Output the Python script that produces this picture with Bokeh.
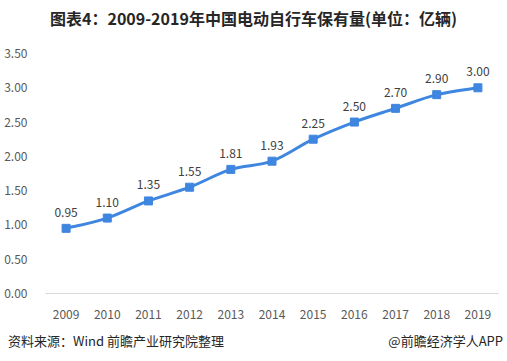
from bokeh.plotting import figure
from bokeh.models import Range1d, FixedTicker, NumeralTickFormatter, ColumnDataSource, Div
from bokeh.layouts import column
from bokeh.core.properties import value
from bokeh.embed import file_html
from bokeh.resources import INLINE

years = ["2009", "2010", "2011", "2012", "2013", "2014", "2015", "2016", "2017", "2018", "2019"]
values = [0.95, 1.10, 1.35, 1.55, 1.81, 1.93, 2.25, 2.50, 2.70, 2.90, 3.00]
y_ticks = [0.0, 0.5, 1.0, 1.5, 2.0, 2.5, 3.0, 3.5]
title_text = "图表4：2009-2019年中国电动自行车保有量(单位：亿辆)"
source_text = "资料来源：Wind 前瞻产业研究院整理"
brand_text = "@前瞻经济学人APP"

FONT = "Noto Sans CJK SC"
BLUE = "#3F86E0"

xs = list(range(len(years)))

header = Div(
    text=("<div style=\"width:507px;text-align:center;font-family:'Noto Sans CJK SC';"
          "font-size:16px;font-weight:bold;color:#262626;line-height:36px\">%s</div>") % title_text,
    width=507, height=36, styles={"margin": "0"})

p = figure(width=507, height=292, x_range=Range1d(-0.5, 10.5), y_range=Range1d(0, 3.5),
           output_backend="svg", toolbar_location=None,
           min_border_left=45, min_border_right=9, min_border_top=17, min_border_bottom=35)
p.outline_line_color = None
p.grid.visible = False
p.background_fill_color = "white"
p.border_fill_color = "white"

# axes
p.xaxis.ticker = FixedTicker(ticks=xs)
p.xaxis.major_label_overrides = {i: y for i, y in enumerate(years)}
p.xaxis.axis_line_color = "#D9D9D9"
p.xaxis.major_tick_line_color = None
p.xaxis.minor_tick_line_color = None
p.xaxis.major_label_standoff = 10
p.xaxis.major_label_text_font = FONT
p.xaxis.major_label_text_font_size = "12px"
p.xaxis.major_label_text_color = "#595959"

p.yaxis.ticker = FixedTicker(ticks=y_ticks)
p.yaxis.formatter = NumeralTickFormatter(format="0.00")
p.yaxis.axis_line_color = None
p.yaxis.major_tick_line_color = None
p.yaxis.minor_tick_line_color = None
p.yaxis.major_label_standoff = 12
p.yaxis.major_label_text_font = FONT
p.yaxis.major_label_text_font_size = "12px"
p.yaxis.major_label_text_color = "#595959"

# smooth curve via Catmull-Rom -> cubic Bezier
n = len(xs)
x0, y0, x1, y1, cx0, cy0, cx1, cy1 = [], [], [], [], [], [], [], []
for i in range(n - 1):
    pm = (xs[max(i - 1, 0)], values[max(i - 1, 0)])
    pa = (xs[i], values[i])
    pb = (xs[i + 1], values[i + 1])
    pn = (xs[min(i + 2, n - 1)], values[min(i + 2, n - 1)])
    x0.append(pa[0]); y0.append(pa[1]); x1.append(pb[0]); y1.append(pb[1])
    cx0.append(pa[0] + (pb[0] - pm[0]) / 6.0); cy0.append(pa[1] + (pb[1] - pm[1]) / 6.0)
    cx1.append(pb[0] - (pn[0] - pa[0]) / 6.0); cy1.append(pb[1] - (pn[1] - pa[1]) / 6.0)
p.bezier(x0=x0, y0=y0, x1=x1, y1=y1, cx0=cx0, cy0=cy0, cx1=cx1, cy1=cy1,
         line_color=BLUE, line_width=3)

src = ColumnDataSource(dict(x=xs, y=values, lab=["%.2f" % v for v in values]))
p.scatter("x", "y", source=src, marker="square", size=8, fill_color=BLUE, line_color=BLUE)
p.text("x", "y", text="lab", source=src, text_align="center", text_baseline="middle",
       y_offset=-16, text_font=value(FONT), text_font_size="12px", text_color="#404040")

footer = Div(
    text=("<div style=\"display:flex;justify-content:space-between;width:495px;"
          "font-family:'Noto Sans CJK SC';font-size:13px;color:#262626;line-height:16px;"
          "padding-top:5px\"><span>%s</span><span>%s</span></div>") % (source_text, brand_text),
    width=507, height=33, styles={"margin": "0", "padding-left": "8px"})

layout = column(header, p, footer, spacing=0)
open("out.html", "w").write(file_html(layout, INLINE))
